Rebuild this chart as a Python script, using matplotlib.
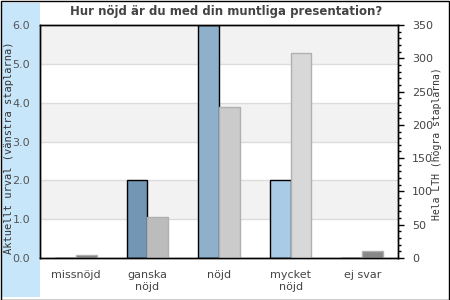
import matplotlib
matplotlib.use("Agg")
import matplotlib.pyplot as plt
from matplotlib.patches import Rectangle
import numpy as np

categories = ["missnöjd", "ganska\nnöjd", "nöjd", "mycket\nnöjd", "ej svar"]
left_values = [0, 2, 6, 2, 0]
right_values = [4, 62, 227, 308, 10]
left_colors = ["#7396b4", "#7396b4", "#8fb0cb", "#aacbe6", "#7396b4"]
right_colors = ["#808080", "#bcbcbc", "#cbcbcb", "#d8d8d8", "#888888"]
left_ticks = [0, 1, 2, 3, 4, 5, 6]
right_ticks = [0, 50, 100, 150, 200, 250, 300, 350]

title = "Hur nöjd är du med din muntliga presentation?"
left_label = "Aktuellt urval (vänstra staplarna)"
right_label = "Hela LTH (högra staplarna)"

W, H = 450, 300
fig = plt.figure(figsize=(W / 100, H / 100), dpi=100)
fig.patch.set_facecolor("white")

# left light-blue panel and figure border
fig.patches.append(Rectangle((2 / W, 3 / H), 38 / W, 294 / H, transform=fig.transFigure,
                             facecolor="#c8e6fa", edgecolor="none", zorder=-5))
fig.patches.append(Rectangle((0.5 / W, 0.5 / H), (W - 1.5) / W, (H - 1.5) / H, transform=fig.transFigure,
                             facecolor="none", edgecolor="black", lw=1, zorder=10))

ax = fig.add_axes([40 / W, 42 / H, 358 / W, 233 / H])
ax.set_facecolor("white")
ax.set_ylim(0, 6)
ax.set_xlim(-0.5, len(categories) - 0.5)

for i in range(len(left_ticks) - 1):
    if (len(left_ticks) - 2 - i) % 2 == 0:
        ax.axhspan(left_ticks[i], left_ticks[i + 1], color="#f2f2f2", zorder=0, lw=0)
for t in left_ticks[1:-1]:
    ax.axhline(t, color="#dcdcdc", lw=1, zorder=0.5)

x = np.arange(len(categories))
bw = 0.29
ax.bar(x - bw / 2, left_values, width=bw, color=left_colors, edgecolor="black", lw=1, zorder=2)

ax.set_yticks(left_ticks)
ax.set_yticklabels([f"{v:.1f}" for v in left_ticks])
ax.tick_params(axis="y", length=0, pad=7, labelsize=8, labelcolor="#555555")
ax.set_xticks(x)
ax.set_xticklabels(categories)
ax.tick_params(axis="x", length=0, pad=9, labelsize=8, labelcolor="#444444")
for s in ax.spines.values():
    s.set_color("black")
    s.set_linewidth(1)

ax2 = ax.twinx()
ax2.set_ylim(0, 350)
ax2.bar(x + bw / 2, right_values, width=bw, color=right_colors, edgecolor="#b0b0b0", lw=1, zorder=2)
ax2.set_yticks(right_ticks)
ax2.set_yticks(np.arange(0, 351, 10), minor=True)
ax2.tick_params(axis="y", which="major", length=4, width=1, pad=6, labelsize=8, labelcolor="#444444")
ax2.tick_params(axis="y", which="minor", length=2, width=1)
for s in ax2.spines.values():
    s.set_color("black")
    s.set_linewidth(1)

fig.text(9 / W, 1 - 148 / H, left_label, rotation=90, ha="center", va="center",
         family="DejaVu Sans Mono", fontsize=7.5, color="#333333")
fig.text(437 / W, 1 - 144 / H, right_label, rotation=90, ha="center", va="center",
         family="DejaVu Sans Mono", fontsize=7, color="#333333")

fig.text(226 / W, 1 - 12 / H, title, ha="center", va="center", fontsize=8.5,
         fontweight="bold", color="#444444")

fig.savefig("out.png", dpi=100)
